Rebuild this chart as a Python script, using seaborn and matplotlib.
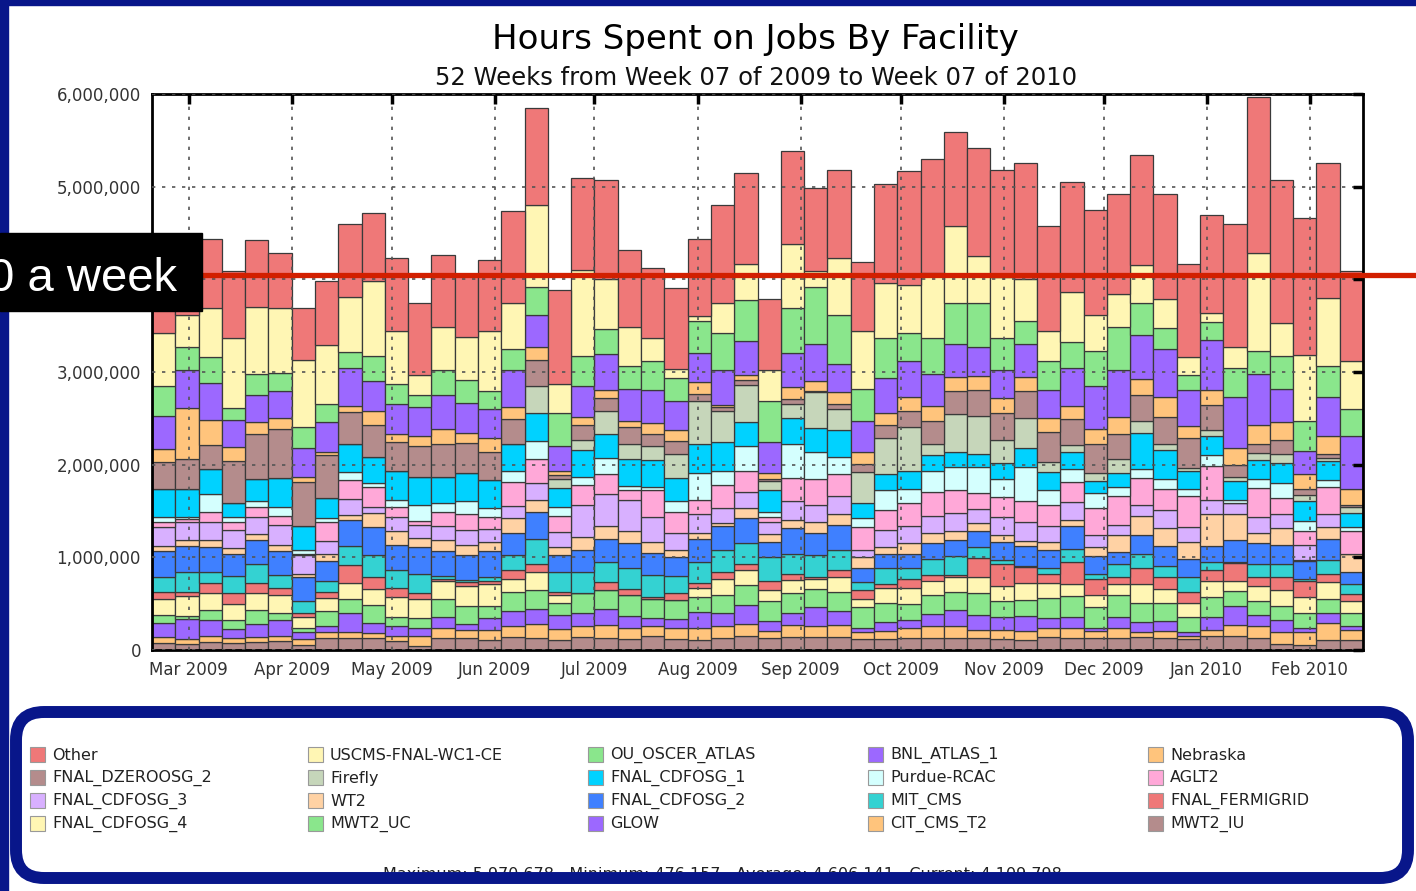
import pandas as pd
import seaborn as sns
import matplotlib.pyplot as plt
import matplotlib.dates as mdates
from matplotlib.patches import Rectangle, FancyBboxPatch
from matplotlib.lines import Line2D
from matplotlib.ticker import FuncFormatter, MultipleLocator
from matplotlib.transforms import IdentityTransform

sns.set_theme(style="white")
plt.rcParams['font.family'] = ['DejaVu Sans']

# weekly hours per facility, in thousands of hours (52 weeks)
other = [700, 740, 750, 724, 714, 599, 561, 697, 793, 740, 790, 770, 770, 680, 770, 1000, 1050, 1010, 990, 1070,
         830, 750, 880, 840, 1060, 980, 770, 1000, 900, 950, 750, 1070, 1230, 1230, 1010, 1170, 1160, 1260, 1140, 1190,
         1140, 1080, 1190, 1130, 1010, 1050, 1330, 1690, 1540, 1480, 1460, 970]
uscms = [570, 340, 533, 751, 723, 697, 731, 634, 592, 805, 570, 220, 470, 470, 640, 490, 880, 310, 930, 540,
         430, 250, 90, 50, 320, 390, 330, 690, 170, 620, 620, 590, 520, 700, 840, 510, 650, 450, 320, 540,
         380, 350, 410, 320, 190, 100, 230, 1050, 360, 710, 740, 520]
ou_oscer = [330, 250, 271, 132, 233, 193, 224, 194, 170, 272, 210, 130, 270, 240, 200, 230, 310, 360, 320, 270,
            240, 310, 250, 340, 400, 450, 450, 480, 620, 520, 350, 430, 300, 390, 440, 470, 350, 250, 310, 280,
            380, 470, 340, 220, 160, 200, 310, 250, 350, 320, 330, 290]
bnl = [350, 405, 403, 293, 290, 290, 310, 321, 410, 330, 330, 310, 370, 330, 310, 400, 340, 270, 340, 380,
       350, 360, 320, 320, 380, 360, 330, 370, 400, 310, 330, 380, 390, 350, 350, 310, 300, 350, 310, 410,
       470, 510, 480, 520, 390, 530, 550, 550, 360, 250, 420, 570]
nebraska = [140, 555, 266, 147, 127, 117, 50, 39, 66, 143, 90, 110, 160, 110, 150, 130, 140, 40, 80, 90,
            60, 120, 110, 130, 20, 60, 60, 130, 110, 130, 130, 130, 150, 160, 160, 150, 160, 160, 150, 140,
            160, 180, 170, 220, 130, 170, 180, 210, 190, 160, 190, 170]
dzero = [290, 320, 263, 457, 484, 533, 480, 456, 348, 350, 310, 330, 350, 320, 310, 270, 280, 40, 160, 140,
         190, 130, 140, 70, 40, 50, 30, 50, 10, 50, 90, 140, 170, 250, 240, 280, 290, 290, 320, 280,
         310, 270, 280, 290, 330, 270, 130, 90, 150, 70, 50, 30]
firefly = [0, 0, 0, 0, 0, 0, 0, 0, 0, 0, 0, 0, 0, 0, 0, 0, 290, 100, 110, 250,
           160, 150, 260, 470, 340, 400, 90, 160, 380, 230, 330, 390, 480, 120, 410, 410, 250, 320, 110, 70,
           90, 150, 130, 60, 30, 60, 50, 80, 100, 60, 30, 60]
cdf1 = [305, 305, 267, 151, 244, 317, 255, 220, 302, 280, 310, 300, 280, 300, 300, 290, 300, 210, 290, 260,
        290, 290, 250, 310, 310, 260, 240, 280, 260, 290, 170, 170, 190, 170, 160, 140, 180, 210, 190, 190,
        130, 150, 390, 320, 190, 210, 200, 210, 220, 220, 210, 150]
purdue = [50, 20, 194, 50, 65, 90, 46, 39, 77, 43, 80, 180, 100, 140, 100, 120, 200, 90, 90, 170,
          40, 30, 120, 290, 150, 270, 60, 360, 300, 180, 90, 220, 150, 230, 250, 290, 190, 360, 160, 140,
          160, 100, 90, 100, 80, 110, 30, 90, 160, 110, 70, 50]
aglt2 = [58, 30, 108, 85, 109, 104, 15, 213, 213, 220, 110, 40, 150, 180, 120, 260, 260, 180, 210, 220,
         110, 290, 230, 150, 250, 230, 50, 250, 270, 240, 250, 220, 250, 250, 250, 170, 220, 230, 230, 210,
         290, 310, 290, 230, 330, 370, 0, 320, 170, 150, 290, 240]
cdf3 = [205, 200, 194, 194, 181, 213, 198, 135, 174, 60, 150, 140, 150, 160, 140, 130, 180, 160, 350, 340,
        340, 270, 180, 210, 160, 170, 130, 210, 190, 190, 80, 180, 190, 190, 200, 150, 190, 200, 170, 200,
        130, 110, 120, 190, 160, 150, 120, 170, 150, 160, 140, 0]
wt2 = [54, 58, 77, 69, 66, 65, 39, 78, 54, 150, 150, 100, 120, 110, 100, 160, 130, 90, 140, 140,
       130, 120, 80, 60, 30, 110, 80, 80, 120, 120, 120, 70, 110, 110, 90, 90, 70, 60, 90, 60,
       100, 180, 210, 200, 190, 350, 280, 110, 190, 10, 130, 200]
cdf2 = [283, 283, 271, 240, 256, 263, 251, 212, 275, 300, 270, 290, 270, 260, 280, 230, 290, 180, 240, 250,
        260, 240, 200, 250, 260, 260, 170, 280, 230, 270, 150, 160, 160, 170, 180, 170, 200, 210, 200, 250,
        190, 130, 200, 210, 190, 170, 240, 220, 200, 190, 230, 130]
mit = [155, 213, 123, 186, 208, 136, 136, 116, 209, 240, 190, 210, 30, 30, 40, 170, 270, 210, 230, 220,
       230, 240, 190, 230, 240, 230, 250, 220, 240, 220, 80, 170, 110, 170, 200, 120, 40, 10, 60, 140,
       50, 140, 160, 120, 160, 90, 10, 140, 140, 20, 150, 110]
fermigrid = [77, 50, 109, 116, 109, 77, 38, 70, 186, 130, 100, 60, 20, 40, 40, 90, 90, 40, 0, 80,
             70, 20, 70, 50, 70, 70, 100, 60, 20, 70, 100, 40, 100, 60, 20, 200, 240, 180, 100, 240,
             180, 80, 170, 130, 120, 110, 190, 100, 140, 180, 90, 70]
cdf4 = [174, 213, 174, 174, 174, 194, 124, 143, 174, 170, 210, 200, 200, 210, 230, 140, 190, 80, 0, 0,
        0, 0, 0, 100, 180, 160, 120, 150, 110, 160, 90, 160, 170, 160, 160, 180, 160, 180, 160, 130,
        130, 120, 200, 150, 150, 180, 110, 160, 170, 170, 180, 130]
mwt2_uc = [89, 35, 108, 89, 155, 69, 39, 155, 155, 194, 100, 110, 190, 200, 140, 210, 210, 130, 210, 210,
           220, 210, 210, 160, 190, 210, 220, 210, 200, 210, 220, 210, 180, 200, 200, 230, 170, 170, 210, 220,
           220, 230, 210, 200, 170, 210, 160, 150, 160, 160, 150, 140]
glow = [151, 217, 174, 104, 147, 174, 81, 70, 205, 108, 110, 90, 120, 60, 120, 160, 160, 150, 140, 170,
        130, 80, 90, 170, 140, 210, 100, 130, 200, 150, 50, 90, 80, 130, 170, 160, 140, 160, 110, 120,
        30, 120, 110, 100, 40, 140, 210, 120, 130, 50, 110, 40]
cit = [62, 46, 66, 51, 46, 58, 66, 65, 66, 58, 50, 110, 110, 90, 110, 120, 150, 120, 120, 140,
       120, 110, 120, 130, 130, 130, 80, 130, 120, 130, 70, 90, 110, 130, 130, 90, 100, 100, 100, 110,
       80, 110, 50, 80, 30, 70, 120, 130, 120, 140, 180, 110]
mwt2_iu = [77, 70, 89, 77, 89, 97, 50, 128, 128, 128, 100, 40, 130, 130, 110, 140, 130, 110, 140, 130,
           120, 150, 120, 110, 130, 150, 130, 140, 140, 140, 120, 120, 130, 130, 130, 130, 120, 110, 140, 130,
           130, 130, 140, 130, 120, 150, 150, 130, 70, 50, 110, 110]

# legend order (row by row); first one sits on top of the stack
facilities = ["Other", "USCMS-FNAL-WC1-CE", "OU_OSCER_ATLAS", "BNL_ATLAS_1", "Nebraska",
              "FNAL_DZEROOSG_2", "Firefly", "FNAL_CDFOSG_1", "Purdue-RCAC", "AGLT2",
              "FNAL_CDFOSG_3", "WT2", "FNAL_CDFOSG_2", "MIT_CMS", "FNAL_FERMIGRID",
              "FNAL_CDFOSG_4", "MWT2_UC", "GLOW", "CIT_CMS_T2", "MWT2_IU"]
series = [other, uscms, ou_oscer, bnl, nebraska, dzero, firefly, cdf1, purdue, aglt2,
          cdf3, wt2, cdf2, mit, fermigrid, cdf4, mwt2_uc, glow, cit, mwt2_iu]
colors = ["#ef7878", "#fff6b4", "#8ae68c", "#9c68ff", "#ffc47c",
          "#b48c8c", "#c6d6ba", "#00d2ff", "#d4fffe", "#ffa8d8",
          "#d8b0ff", "#ffd2a4", "#3f80ff", "#34d2d2", "#ef7878",
          "#fff6b4", "#8ae68c", "#9c68ff", "#ffc47c", "#b48c8c"]

weeks = pd.date_range("2009-02-18", periods=53, freq="7D")
edges = [float(e) for e in mdates.date2num(weeks)]

rows = []
for name, vals in zip(facilities, series):
    for w, v in zip(edges[:-1], vals):
        rows.append({"week": w + 3.5, "facility": name, "hours": float(v * 1000)})
df = pd.DataFrame(rows)

W, H = 1416, 891
blue = "#08168a"
fig = plt.figure(figsize=(W / 100, H / 100), dpi=100)
fig.patch.set_facecolor("white")

ax = fig.add_axes([152 / W, 1 - 650 / H, (1363 - 152) / W, (650 - 94) / H])
sns.histplot(data=df, x="week", weights="hours", hue="facility", hue_order=facilities,
             multiple="stack", bins=edges, palette=dict(zip(facilities, colors)),
             alpha=1, edgecolor="#3a3a3a", linewidth=0.9, legend=False, ax=ax)

ax.set_xlim(edges[0], edges[-1])
ax.set_ylim(0, 6000000)
ax.set_xlabel("")
ax.set_ylabel("")
ax.yaxis.set_major_locator(MultipleLocator(1000000))
# the 4,000,000 label sits under the black caption box, so leave it blank
ax.yaxis.set_major_formatter(FuncFormatter(lambda v, p: "" if int(v) == 4000000 else f"{int(v):,}"))
ax.xaxis.set_major_locator(mdates.MonthLocator())
ax.xaxis.set_major_formatter(mdates.DateFormatter("%b %Y"))
ax.set_axisbelow(False)
ax.grid(True, linestyle=(0, (2, 4)), color="#555555", linewidth=1.2)
ax.tick_params(axis="both", direction="in", length=7, width=2.5, color="black",
               top=True, right=True, labelsize=12, labelcolor="#333333", pad=8)
for s in ax.spines.values():
    s.set_visible(True)
    s.set_color("black")
    s.set_linewidth(2)

fig.text(755 / W, 1 - 40 / H, "Hours Spent on Jobs By Facility", ha="center", va="center",
         fontsize=24.5, color="black")
fig.text(756 / W, 1 - 78 / H, "52 Weeks from Week 07 of 2009 to Week 07 of 2010", ha="center",
         va="center", fontsize=17.5, color="#111111")

# slide decoration: blue frame, red target line and black label
fig.add_artist(Rectangle((0, 1 - 5 / H), 1, 5 / H, transform=fig.transFigure, color=blue, zorder=5))
fig.add_artist(Rectangle((0, 0), 8 / W, 1, transform=fig.transFigure, color=blue, zorder=5))
fig.add_artist(Line2D([202 / W, 1], [1 - 275 / H, 1 - 275 / H], transform=fig.transFigure,
                      color="#d21f00", linewidth=3.8, zorder=6))
fig.add_artist(Rectangle((0, 1 - 311 / H), 202 / W, 78 / H, transform=fig.transFigure,
                         color="black", zorder=7))
fig.text(-12 / W, 1 - 291 / H, "0 a week", ha="left", va="baseline", fontsize=34,
         color="white", family=["Liberation Sans", "DejaVu Sans"], zorder=8)

# legend
col_x = [30, 308, 588, 868, 1148]
row_y = [755, 778, 801, 824]
for i, (name, c) in enumerate(zip(facilities, colors)):
    x, y = col_x[i % 5], row_y[i // 5]
    fig.add_artist(Rectangle((x / W, 1 - (y + 7) / H), 15 / W, 15 / H, transform=fig.transFigure,
                             facecolor=c, edgecolor="#999999", linewidth=0.8))
    fig.text((x + 22) / W, 1 - y / H, name, ha="left", va="center", fontsize=11.5, color="#222222")

fig.text(722 / W, 1 - 874 / H,
         "Maximum: 5,970,678,  Minimum: 476,157,  Average: 4,606,141,  Current: 4,109,798",
         ha="center", va="center", fontsize=11.5, color="#222222")

fig.add_artist(FancyBboxPatch((16, 13), 1392, 166, boxstyle="round,pad=0,rounding_size=28",
                              transform=IdentityTransform(), facecolor="none", edgecolor=blue,
                              linewidth=8.6, zorder=9))

fig.savefig("out.png", dpi=100, facecolor="white")
